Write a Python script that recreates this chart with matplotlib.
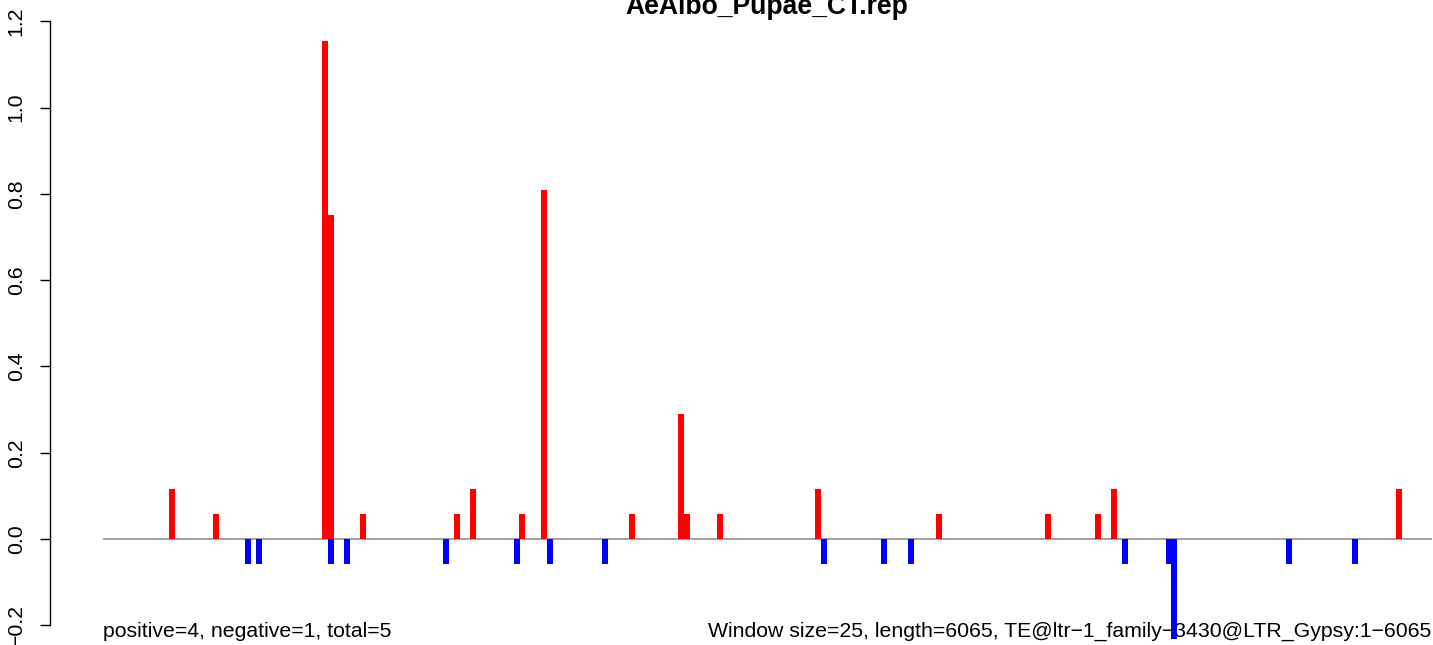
import matplotlib
matplotlib.use("Agg")
import matplotlib.pyplot as plt

plt.rcParams['font.family'] = ['Liberation Sans', 'DejaVu Sans']

# sequence info
seq_length = 6065
window = 25

# positive (red) windows: window index and value
pos_windows = [12, 20, 40, 41, 47, 64, 67, 76, 80, 96, 105, 106, 112, 130, 152, 172, 181, 184, 236]
pos_values = [0.1155, 0.0577, 1.155, 0.751, 0.0577, 0.0577, 0.1155, 0.0577, 0.808, 0.0577,
              0.289, 0.0577, 0.0577, 0.1155, 0.0577, 0.0577, 0.0577, 0.1155, 0.1155]

# negative (blue) windows
neg_windows = [26, 28, 41, 44, 62, 75, 81, 91, 131, 142, 147, 186, 194, 195, 216, 228]
neg_values = [-0.0577, -0.0577, -0.0577, -0.0577, -0.0577, -0.0577, -0.0577, -0.0577,
              -0.0577, -0.0577, -0.0577, -0.0577, -0.0577, -0.231, -0.0577, -0.0577]

y_ticks = [-0.2, 0.0, 0.2, 0.4, 0.6, 0.8, 1.0, 1.2]

title = "AeAlbo_Pupae_CT.rep"
left_note = "positive=4, negative=1, total=5"
right_note = "Window size=25, length=6065, TE@ltr\u22121_family\u22123430@LTR_Gypsy:1\u22126065"

W, H = 1433, 645
fig = plt.figure(figsize=(W / 100, H / 100), dpi=100)

# axes: left spine at x=50px, covers full height
ax_left = 50
ax = fig.add_axes([ax_left / W, 0, (W - ax_left) / W, 1])
px_per_bp = 1329 / seq_length
ax.set_xlim(-(103 - ax_left) / px_per_bp, (W - 103) / px_per_bp)
ax.set_ylim(-(H - 539) / 431.5, 539 / 431.5)

bar_w = 27.5
ax.bar([w * window for w in pos_windows], pos_values, width=bar_w, align='edge',
       color='#FF0000', linewidth=0, zorder=3)
ax.bar([w * window for w in neg_windows], neg_values, width=bar_w, align='edge',
       color='#0000FF', linewidth=0, zorder=3)

ax.hlines(0, 0, seq_length, color='#A0A0A0', linewidth=1.4, zorder=2)

for s in ['top', 'right', 'bottom']:
    ax.spines[s].set_visible(False)
ax.spines['left'].set_bounds(-0.2, 1.2)
ax.spines['left'].set_linewidth(1.0)
ax.set_yticks(y_ticks)
ax.set_yticklabels([("\u22120.2" if t < 0 else f"{t:.1f}") for t in y_ticks])
ax.tick_params(axis='y', length=7.5, width=1.0, labelsize=15.3, pad=10,
               labelrotation=90)
for lab in ax.get_yticklabels():
    lab.set_va('center')
ax.set_xticks([])

# title sits partly above the top edge, as in the original
fig.text(767 / W, 1 - 13.5 / H, title, ha='center', va='baseline',
         fontsize=19.1, fontweight='bold')
fig.text(103 / W, 1 - 637 / H, left_note, ha='left', va='baseline', fontsize=15.3)
fig.text(1431 / W, 1 - 637 / H, right_note, ha='right', va='baseline', fontsize=15.3)

fig.savefig("out.png", dpi=100)
